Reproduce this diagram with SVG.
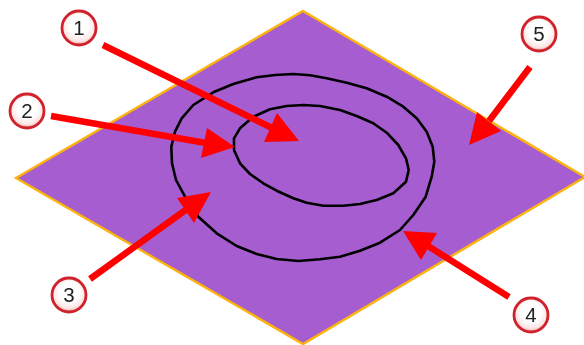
<svg xmlns="http://www.w3.org/2000/svg" width="584" height="345" viewBox="0 0 584 345">
<style>
.soft{filter:url(#soft)}
.plate{fill:#a55dd0;stroke:#fdb30f;stroke-width:2.4;stroke-linejoin:miter}
.curve{fill:none;stroke:#000;stroke-width:2.6;stroke-linejoin:round}
.shaft{stroke:#fe0000;stroke-width:6.5;fill:none}
.head{fill:#fe0000}
.badge{fill:url(#bg);stroke:#d0202a;stroke-width:2.8}
.num{font-family:"Liberation Sans",Arial,sans-serif;font-size:20.5px;fill:#222;text-anchor:middle}
</style>
<defs>
<filter id="soft" x="-5%" y="-5%" width="110%" height="110%"><feGaussianBlur stdDeviation="0.45"/></filter>
<radialGradient id="bg" cx="50%" cy="42%" r="58%">
<stop offset="0.5" stop-color="#fff"/>
<stop offset="0.82" stop-color="#fde4e4"/>
<stop offset="1" stop-color="#f29a9a"/>
</radialGradient>
</defs>
<g id="plate" class="soft">
<polygon class="plate" points="303,11 585,177 303,344 16,178"/>
<polygon class="curve" points="293.3,74 310,75.3 326.7,78.3 346.7,82.7 366.7,88.3 386.7,96.7 403.3,106.7 416.7,118.3 426.7,131.7 432.7,146.7 434.3,161.7 431.7,176.7 425.7,196.7 413.3,215 400,230 380,242.7 360,250.7 340,256.7 320,259.3 298.3,261 276.7,259 256.7,254 236.7,246 216.7,233.3 198.3,216.7 185,196.7 176,180 172,163.3 171.3,146.7 175,131.7 181.7,118.3 193.3,105 213.3,92.3 233.3,84 256.7,77.3 275,75"/>
<polygon class="curve" points="303.3,105 320,106 340,110 356.7,116 373.3,123.3 386.7,132.7 398.3,145 406,158.3 408.7,170 406,181.7 393.3,193.3 376.7,200 360,204 343.3,205.7 323.3,205.7 306.7,202.7 293.3,198.3 276.7,190.7 263.3,183.3 250,174 240,163.3 234,150 234,138.3 240,128.3 253.3,116.7 270,109.3 286.7,106"/>
</g>
<g id="connectors" class="soft">
<line class="shaft" x1="103" y1="45" x2="272" y2="128"/>
<polygon class="head" points="299,141 277,113 264,142"/>
<line class="shaft" x1="51" y1="116" x2="206" y2="143"/>
<polygon class="head" points="235,147 207,128 201,158"/>
<line class="shaft" x1="90" y1="279" x2="187" y2="209"/>
<polygon class="head" points="211,192 177,198 194,223"/>
<line class="shaft" x1="509" y1="297" x2="428" y2="246"/>
<polygon class="head" points="403,231 437,233 421,260"/>
<line class="shaft" x1="530" y1="67" x2="489" y2="121"/>
<polygon class="head" points="469,145 477,112 501,131"/>
</g>
<g id="node-1" class="soft"><circle class="badge" cx="79" cy="28" r="17"/><text class="num" x="79" y="35">1</text></g>
<g id="node-2" class="soft"><circle class="badge" cx="27" cy="111" r="17"/><text class="num" x="27" y="118">2</text></g>
<g id="node-3" class="soft"><circle class="badge" cx="69" cy="295" r="17"/><text class="num" x="69" y="302">3</text></g>
<g id="node-4" class="soft"><circle class="badge" cx="531" cy="315" r="17"/><text class="num" x="531" y="322">4</text></g>
<g id="node-5" class="soft"><circle class="badge" cx="539" cy="34" r="17"/><text class="num" x="539" y="41">5</text></g>
</svg>
